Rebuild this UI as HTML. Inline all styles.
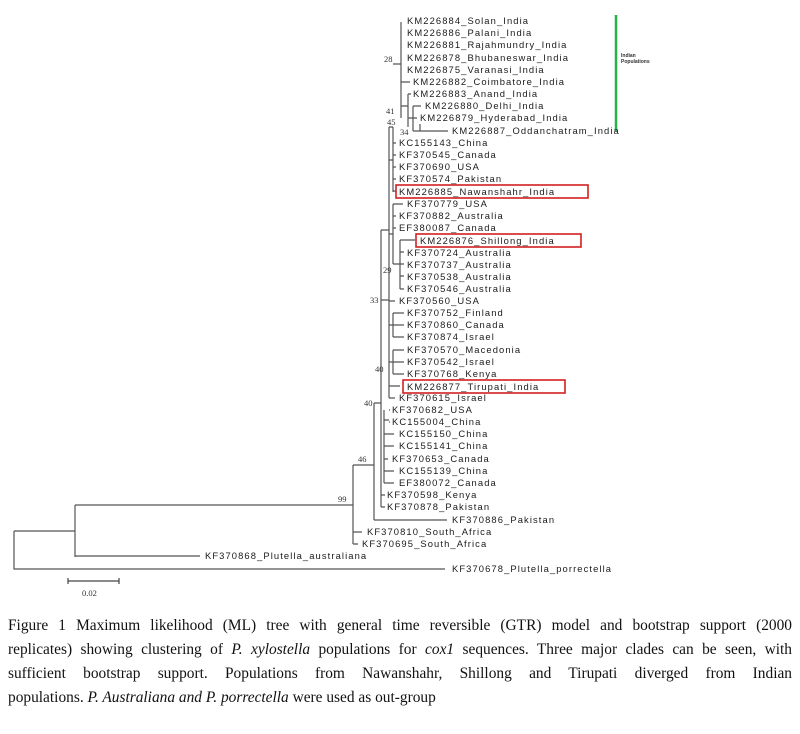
<!DOCTYPE html>
<html><head><meta charset="utf-8"><style>
body{margin:0;background:#fff;width:800px;height:734px;overflow:hidden;position:relative}
svg{position:absolute;left:0;top:0}
.cap{position:absolute;left:8px;width:784px;font-family:"Liberation Serif",serif;font-size:15.4px;color:#111;line-height:24px;top:614px}
.cap div{text-align:justify;text-align-last:justify;white-space:nowrap;height:24px}
.cap div.l{text-align-last:left}
</style></head><body>
<svg width="800" height="610" xmlns="http://www.w3.org/2000/svg">
<g stroke="#555" stroke-width="1.2" fill="none">
<path d="M14 531V569H445M14 531H75M75 505V557M75 505H353M75 556H200"/>
<path d="M353 465V544M353 532H362M353 544H358M353 465H374M374 403V520M374 520H447M374 403H381"/>
<path d="M381 230V507M381 495H385M381 507H385M381 300H389M381 230H389"/>
<path d="M389 127V398M389 301H395M389 386H400M389 398H395M389 410H390M389 422H390"/>
<path d="M384 410V483M384 434H394M384 446H394M384 459H388M384 471H394M384 483H394M384 420H389"/>
<path d="M389 160H393M393 127V192M393 143H396M393 155H396M393 167H396M393 179H396M393 191H396M389 127H393"/>
<path d="M393 64H401M401 22V118M401 82H410M401 106H408M408 94V127M408 94H411M408 118H413M413 106V131M413 106H421M413 118H417M413 131H420M420 124V131M420 131H448"/>
<path d="M389 234H393M393 204V264M393 204H403M393 216H396M393 228H396M393 264H400M400 240V289M400 240H415M400 252H404M400 264H404M400 276H404M400 289H404"/>
<path d="M389 325H393M393 313V337M393 313H404M393 325H404M393 337H404M389 362H393M393 350V374M393 350H404M393 362H404M393 374H404"/>
</g>
<g fill="none" stroke="#d42020" stroke-width="1.6">
<rect x="396" y="185" width="192" height="13"/>
<rect x="416" y="234" width="165" height="13"/>
<rect x="403" y="380" width="162" height="13"/>
</g>
<line x1="616" y1="15" x2="616" y2="131" stroke="#22b34a" stroke-width="2.5"/>
<text x="621" y="57" font-family="Liberation Sans,sans-serif" font-size="5" font-weight="bold" fill="#333">Indian</text>
<text x="621" y="63" font-family="Liberation Sans,sans-serif" font-size="5" font-weight="bold" fill="#333">Populations</text>
<g font-family="Liberation Sans,sans-serif" font-size="9.4" letter-spacing="1.1" fill="#1a1a1a">
<text x="407" y="24">KM226884_Solan_India</text>
<text x="407" y="36">KM226886_Palani_India</text>
<text x="407" y="48">KM226881_Rajahmundry_India</text>
<text x="407" y="61">KM226878_Bhubaneswar_India</text>
<text x="407" y="73">KM226875_Varanasi_India</text>
<text x="413" y="85">KM226882_Coimbatore_India</text>
<text x="413" y="97">KM226883_Anand_India</text>
<text x="425" y="109">KM226880_Delhi_India</text>
<text x="420" y="121">KM226879_Hyderabad_India</text>
<text x="452" y="134">KM226887_Oddanchatram_India</text>
<text x="399" y="146">KC155143_China</text>
<text x="399" y="158">KF370545_Canada</text>
<text x="399" y="170">KF370690_USA</text>
<text x="399" y="182">KF370574_Pakistan</text>
<text x="399" y="195">KM226885_Nawanshahr_India</text>
<text x="407" y="207">KF370779_USA</text>
<text x="399" y="219">KF370882_Australia</text>
<text x="399" y="231">EF380087_Canada</text>
<text x="420" y="244">KM226876_Shillong_India</text>
<text x="407" y="256">KF370724_Australia</text>
<text x="407" y="268">KF370737_Australia</text>
<text x="407" y="280">KF370538_Australia</text>
<text x="407" y="292">KF370546_Australia</text>
<text x="399" y="304">KF370560_USA</text>
<text x="407" y="316">KF370752_Finland</text>
<text x="407" y="328">KF370860_Canada</text>
<text x="407" y="340">KF370874_Israel</text>
<text x="407" y="353">KF370570_Macedonia</text>
<text x="407" y="365">KF370542_Israel</text>
<text x="407" y="377">KF370768_Kenya</text>
<text x="407" y="390">KM226877_Tirupati_India</text>
<text x="399" y="401">KF370615_Israel</text>
<text x="392" y="413">KF370682_USA</text>
<text x="392" y="425">KC155004_China</text>
<text x="399" y="437">KC155150_China</text>
<text x="399" y="449">KC155141_China</text>
<text x="392" y="462">KF370653_Canada</text>
<text x="399" y="474">KC155139_China</text>
<text x="399" y="486">EF380072_Canada</text>
<text x="387" y="498">KF370598_Kenya</text>
<text x="387" y="510">KF370878_Pakistan</text>
<text x="452" y="523">KF370886_Pakistan</text>
<text x="367" y="535">KF370810_South_Africa</text>
<text x="362" y="547">KF370695_South_Africa</text>
<text x="205" y="559">KF370868_Plutella_australiana</text>
<text x="452" y="572">KF370678_Plutella_porrectella</text>
</g>
<g font-family="Liberation Serif,serif" font-size="8.5" fill="#333">
<text x="384" y="62">28</text><text x="386" y="114">41</text><text x="387" y="125">45</text><text x="400" y="135">34</text>
<text x="383" y="273">29</text><text x="370" y="303">33</text><text x="375" y="372">40</text><text x="364" y="406">40</text>
<text x="358" y="462">46</text><text x="338" y="502">99</text>
<text x="82" y="596">0.02</text>
</g>
<path d="M68 581H119M68 578V584M119 578V584" stroke="#444" stroke-width="1.2" fill="none"/>
</svg>
<div class="cap">
<div>Figure 1 Maximum likelihood (ML) tree with general time reversible (GTR) model and bootstrap support (2000</div>
<div>replicates) showing clustering of <i>P. xylostella</i> populations for <i>cox1</i> sequences. Three major clades can be seen, with</div>
<div>sufficient bootstrap support. Populations from Nawanshahr, Shillong and Tirupati diverged from Indian</div>
<div class="l">populations. <i>P. Australiana and P. porrectella</i> were used as out-group</div>
</div>
</body></html>
